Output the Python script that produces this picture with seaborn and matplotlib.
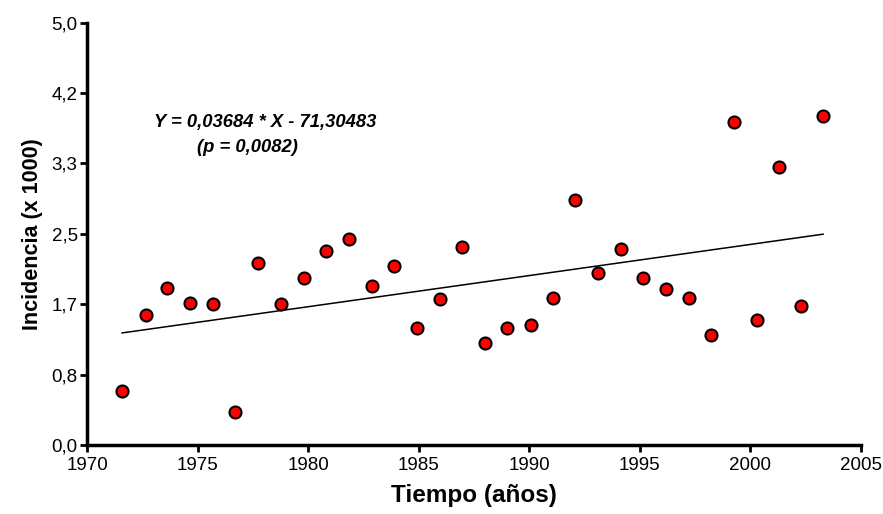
import numpy as np
import pandas as pd
import seaborn as sns
import matplotlib.pyplot as plt

# data
anios = [1971.56, 1972.65, 1973.60, 1974.64, 1975.68, 1976.67, 1977.71, 1978.75,
         1979.80, 1980.80, 1981.83, 1982.87, 1983.87, 1984.90, 1985.95, 1986.95,
         1987.98, 1989.00, 1990.07, 1991.06, 1992.06, 1993.10, 1994.14, 1995.13,
         1996.17, 1997.20, 1998.20, 1999.25, 2000.30, 2001.30, 2002.30, 2003.30]
incidencia = [0.64, 1.54, 1.86, 1.68, 1.67, 0.39, 2.16, 1.67,
              1.98, 2.30, 2.44, 1.88, 2.12, 1.39, 1.73, 2.35,
              1.21, 1.39, 1.42, 1.74, 2.90, 2.04, 2.32, 1.98,
              1.85, 1.74, 1.30, 3.82, 1.48, 3.29, 1.65, 3.89]
pendiente = 0.03684
intercepto = -71.30483
p_valor = "0,0082"

y_ticks = [0.0, 5 / 6, 10 / 6, 2.5, 20 / 6, 25 / 6, 5.0]
y_labels = ["0,0", "0,8", "1,7", "2,5", "3,3", "4,2", "5,0"]
x_ticks = [1970, 1975, 1980, 1985, 1990, 1995, 2000, 2005]

df = pd.DataFrame({"anio": anios, "inc": incidencia})
df["ajuste"] = pendiente * df["anio"] + intercepto

sns.set_style("ticks")
plt.rcParams['font.family'] = ['Liberation Sans', 'DejaVu Sans']
plt.rcParams['text.color'] = 'black'
plt.rcParams['axes.labelcolor'] = 'black'

fig = plt.figure(figsize=(8.83, 5.14), dpi=100)
ax = fig.add_axes([0.099, 0.134, 0.876, 0.822])

sns.lineplot(data=df, x="anio", y="ajuste", color="black", lw=1.1, ax=ax)
sns.scatterplot(data=df, x="anio", y="inc", color="#ff0000", edgecolor="black",
                linewidth=1.5, s=75, zorder=3, ax=ax)

ax.set_xlim(1970, 2005)
ax.set_ylim(0, 5)
ax.set_xticks(x_ticks)
ax.set_xticklabels([str(t) for t in x_ticks])
ax.set_yticks(y_ticks)
ax.set_yticklabels(y_labels)
ax.tick_params(labelsize=13.5, width=2, length=5, color="black", labelcolor="black")
ax.tick_params(axis="y", pad=2)

for s in ["top", "right"]:
    ax.spines[s].set_visible(False)
for s in ["left", "bottom"]:
    ax.spines[s].set_linewidth(2.5)
    ax.spines[s].set_color("black")

ax.set_xlabel("Tiempo (años)", fontsize=17.5, fontweight="bold", labelpad=7)
ax.set_ylabel("Incidencia (x 1000)", fontsize=15.5, fontweight="bold", labelpad=6)

ax.text(265, 514 - 122, "Y = 0,03684 * X - 71,30483", transform=None, fontsize=13.2,
        fontweight="bold", style="italic", ha="center", va="center")
ax.text(247, 514 - 148, "(p = " + p_valor + ")", transform=None, fontsize=13.2,
        fontweight="bold", style="italic", ha="center", va="center")

fig.savefig("out.png", dpi=100)
